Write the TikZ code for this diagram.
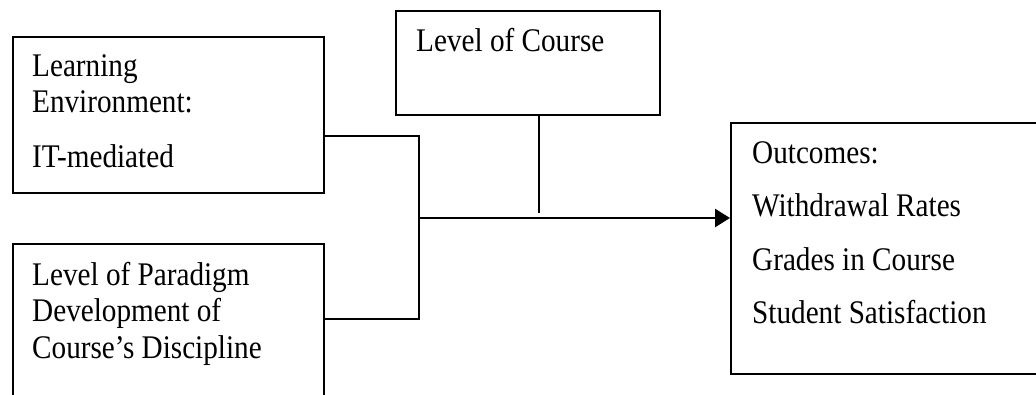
\documentclass[tikz,border=0pt]{standalone}
\usepackage{fontspec}
\setmainfont{Liberation Serif}
\usetikzlibrary{arrows.meta,calc}
% narrow the lettering horizontally
\newcommand\sqz[1]{\scalebox{0.885}[1]{#1}}
\begin{document}
\begin{tikzpicture}[x=1pt,y=-1pt,
  box/.style={draw=black,line width=1.6pt,fill=none},
  txt/.style={anchor=base west,inner sep=0pt,font=\fontsize{33}{36}\selectfont},
  link/.style={draw=black,line width=1.6pt},
  flow/.style={draw=black,line width=2.6pt,-{Triangle[length=15pt,width=18pt]}}]
  \clip (0,0) rectangle (1036,394);
  \fill[white] (0,0) rectangle (1036,394);

  % boxes
  \node[box,minimum width=311pt,minimum height=156pt,anchor=north west] (env) at (12,36) {};
  \node[box,minimum width=311pt,minimum height=200pt,anchor=north west] (para) at (12,243) {};
  \node[box,minimum width=264pt,minimum height=104pt,anchor=north west] (lvl) at (395,10) {};
  \node[box,minimum width=340pt,minimum height=251pt,anchor=north west] (out) at (730,122) {};

  % texts
  \node[txt] (t1) at (32,76.7) {\sqz{Learning}};
  \node[txt] (t2) at (32,112.7) {\sqz{Environment:}};
  \node[txt] (t3) at (32,167.7) {\sqz{IT-mediated}};
  \node[txt] (t4) at (32,285) {\sqz{Level of Paradigm}};
  \node[txt] (t5) at (32,321) {\sqz{Development of}};
  \node[txt] (t6) at (32,358) {\sqz{Course’s Discipline}};
  \node[txt] (t7) at (416,51.7) {\sqz{Level of Course}};
  \node[txt] (t8) at (752,163) {\sqz{Outcomes:}};
  \node[txt] (t9) at (752,216) {\sqz{Withdrawal Rates}};
  \node[txt] (t10) at (752,270) {\sqz{Grades in Course}};
  \node[txt] (t11) at (752,323) {\sqz{Student Satisfaction}};

  % junction points
  \coordinate (jt) at (419,136);
  \coordinate (jb) at (419,319);
  \coordinate (jm) at (419,218);
  \coordinate (lv) at (539,213);

  % connectors
  \draw[link] (env.east |- jt) -- (jt) -- (jb) -- (para.east |- jb);
  \draw[link] (lvl.south -| lv) -- (lv);
  \draw[flow] (jm) -- (out.west |- jm);
\end{tikzpicture}
\end{document}
